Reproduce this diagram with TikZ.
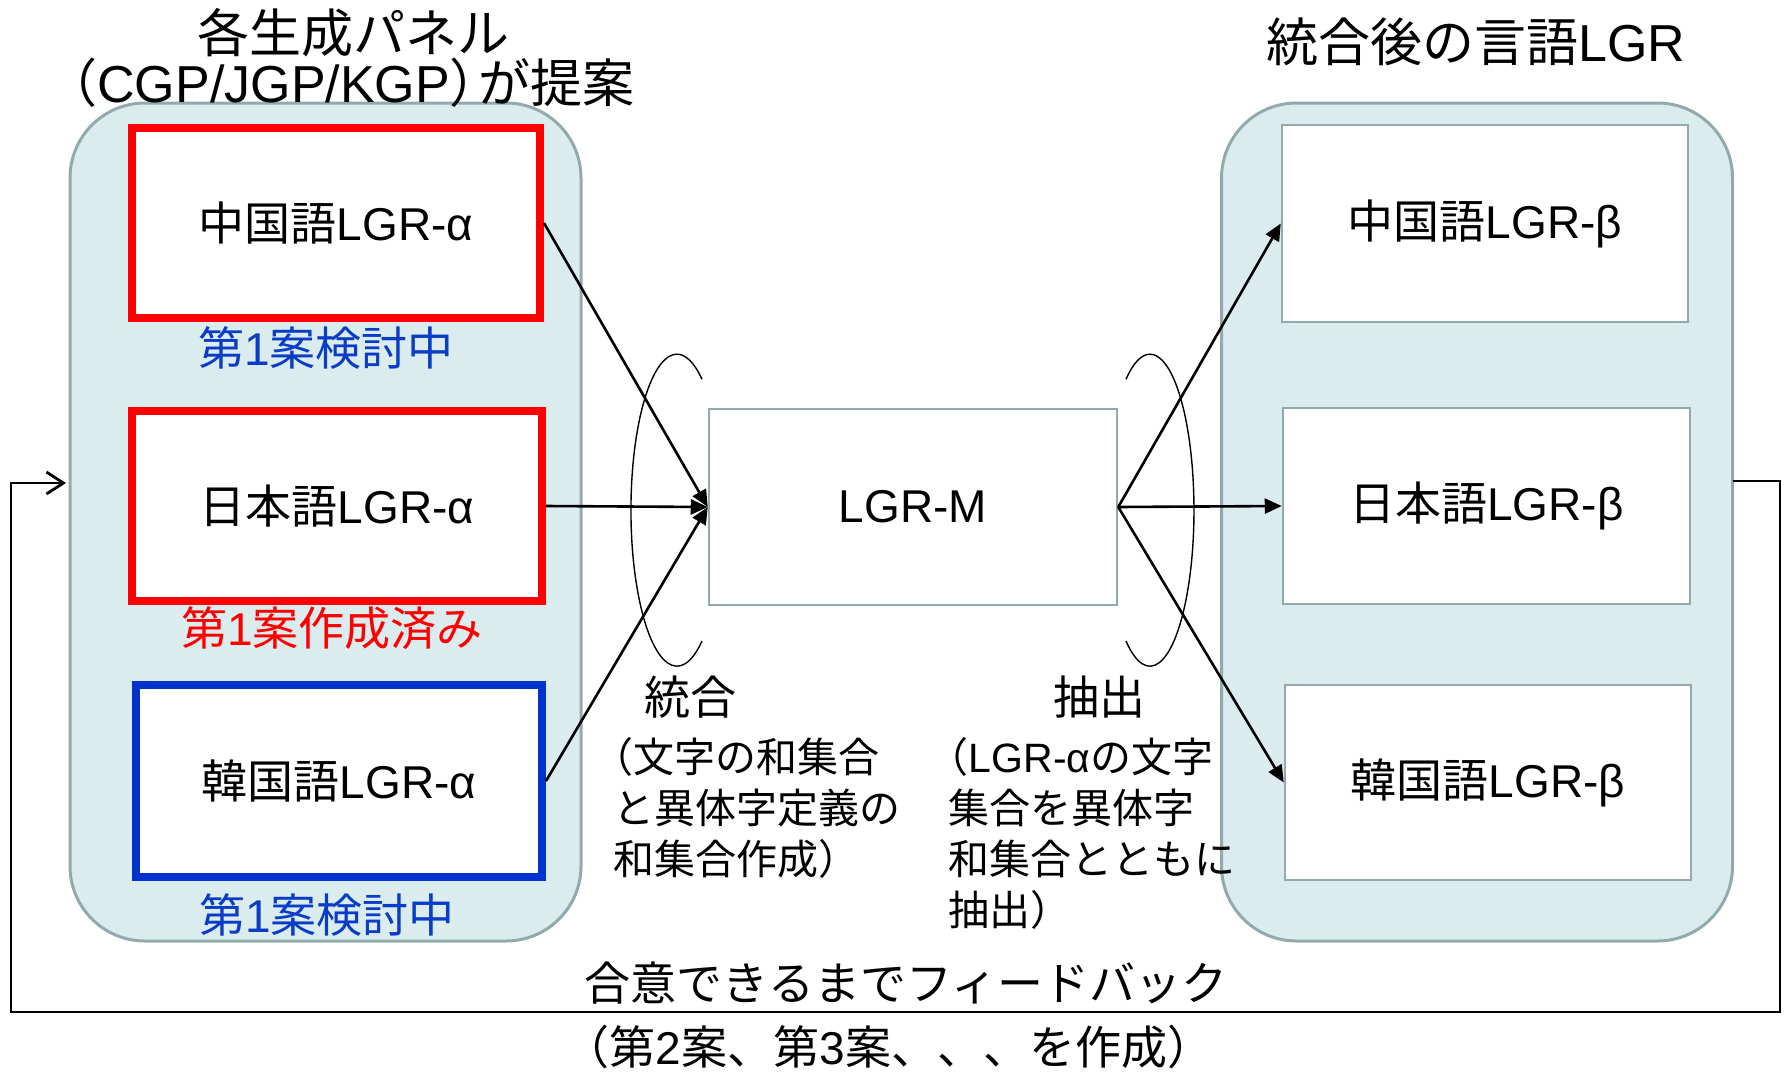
\documentclass[tikz,border=0pt]{standalone}
\usepackage{fontspec}
\setmainfont{Liberation Sans}
\newfontfamily\jpf{Noto Sans CJK JP}
\usetikzlibrary{arrows.meta}
\definecolor{panelfill}{HTML}{DAECEE}
\definecolor{panelline}{HTML}{93AAAD}
\definecolor{boxblue}{HTML}{0033CC}
\definecolor{txtblue}{HTML}{0A3CC8}
\definecolor{boxred}{HTML}{FF0000}
\tikzset{
  panel/.style={draw=panelline, fill=panelfill, line width=3pt, rounded corners=75pt, minimum width=511pt, minimum height=838pt, inner sep=0pt},
  redbox/.style={draw=boxred, fill=white, line width=8pt, inner sep=0pt, font=\fontsize{46}{55}\selectfont},
  bluebox/.style={draw=boxblue, fill=white, line width=8pt, inner sep=0pt, font=\fontsize{46}{55}\selectfont},
  graybox/.style={draw=panelline, fill=white, line width=2.5pt, inner sep=0pt, font=\fontsize{46}{55}\selectfont},
  conn/.style={line width=2.6pt, -{Triangle[length=17pt,width=15pt]}},
  fbline/.style={line width=2.8pt, -{Straight Barb[length=17pt,width=22pt,line width=2.8pt]}},
  arcline/.style={line width=1.4pt},
  title/.style={inner sep=0pt, font=\fontsize{52}{60}\selectfont},
  lbl/.style={inner sep=0pt, font=\fontsize{46}{55}\selectfont},
  desc/.style={inner sep=0pt, align=left, font=\fontsize{41}{51}\selectfont},
}
\begin{document}
\begin{tikzpicture}[x=1pt,y=-1pt]
\path[use as bounding box] (0,0) rectangle (1787,1074);

% panels
\node[panel] (lp) at (325.5,522) {};
\node[panel] (rp) at (1477,522) {};

% titles
\node[title, anchor=base] (t1a) at (353,52) {{\jpf 各生成パネル}};
\node[title, anchor=base] (t1b) at (353,102) {{\jpf\kern-0.5em （}CGP/JGP/KGP{\jpf ）\kern-0.45em が提案}};
\node[title, anchor=base] (t2) at (1476,61) {{\jpf 統合後の言語}LGR};

% left boxes
\node[redbox, minimum width=408pt, minimum height=190pt] (a1) at (336,223) {{\jpf 中国語}LGR-α};
\node[redbox, minimum width=410pt, minimum height=190pt] (a2) at (337,506) {{\jpf 日本語}LGR-α};
\node[bluebox, minimum width=406pt, minimum height=192pt] (a3) at (339,781) {{\jpf 韓国語}LGR-α};

% status labels
\node[lbl, text=txtblue] (s1) at (326,348) {{\jpf 第}1{\jpf 案検討中}};
\node[lbl, text=boxred] (s2) at (332,628) {{\jpf 第}1{\jpf 案作成済み}};
\node[lbl, text=txtblue] (s3) at (327,915) {{\jpf 第}1{\jpf 案検討中}};

% middle box
\node[graybox, minimum width=408pt, minimum height=196pt] (m) at (913,507) {LGR-M};

% right boxes
\node[graybox, minimum width=406pt, minimum height=197pt] (b1) at (1485,223.5) {{\jpf 中国語}LGR-β};
\node[graybox, minimum width=407pt, minimum height=196pt] (b2) at (1486.5,506) {{\jpf 日本語}LGR-β};
\node[graybox, minimum width=406pt, minimum height=195pt] (b3) at (1488,782.5) {{\jpf 韓国語}LGR-β};

% connectors
\draw[conn] (a1.east) -- (m.west);
\draw[conn] (a2.east) -- (m.west);
\draw[conn] (a3.east) -- (m.west);
\draw[conn] (m.east) -- (b1.west);
\draw[conn] (m.east) -- (b2.west);
\draw[conn] (m.east) -- (b3.west);

% arcs
\draw[arcline] (702,641) arc[start angle=57, end angle=303, x radius=46, y radius=156];
\draw[arcline] (1126,641) arc[start angle=123, end angle=-123, x radius=44, y radius=156];

% process labels
\node[lbl, anchor=center] (g1) at (690,697) {{\jpf 統合}};
\node[desc, anchor=north west] (g2) at (613,737) {{\jpf\hspace*{-0.5em}（文字の和集合}\\{\jpf と異体字定義の}\\{\jpf 和集合作成）}};
\node[lbl, anchor=center] (e1) at (1099,697) {{\jpf 抽出}};
\node[desc, anchor=north west] (e2) at (948,737) {{\jpf\hspace*{-0.5em}（}LGR-α{\jpf の文字}\\{\jpf 集合を異体字}\\{\jpf 和集合とともに}\\{\jpf 抽出）}};

% feedback loop
\coordinate (fs) at (1733,481);
\coordinate (fr) at (1780,481);
\coordinate (fb) at (1780,1012);
\coordinate (fl) at (11,1012);
\coordinate (ft) at (11,483);
\coordinate (fe) at (66,483);
\draw[fbline] (fs) -- (fr) -- (fb) -- (fl) -- (ft) -- (fe);

\node[lbl, anchor=base] (f1) at (906,1000) {{\jpf 合意できるまでフィードバック}};
\node[lbl, anchor=base] (f2) at (900,1064) {{\jpf\kern-0.5em （第}2{\jpf 案、第}3{\jpf 案、、、を作成）}};
\end{tikzpicture}
\end{document}
